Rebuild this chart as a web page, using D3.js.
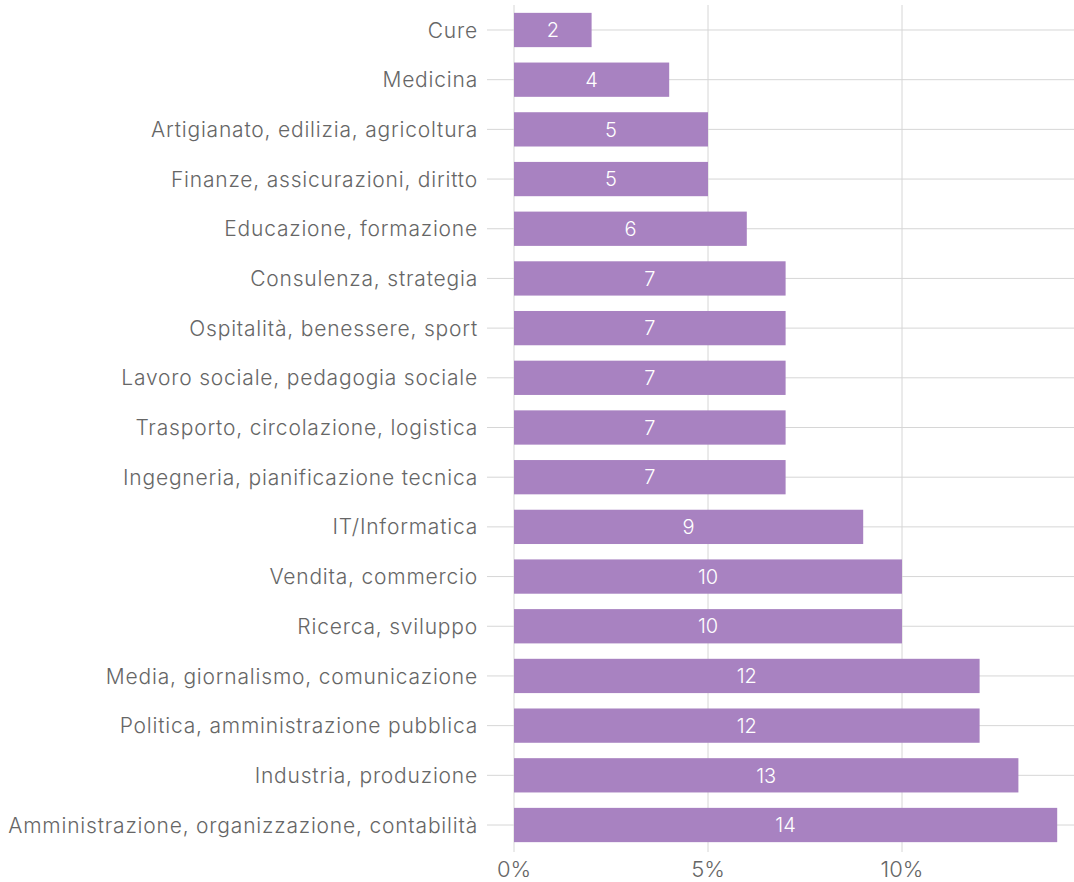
<!DOCTYPE html>
<html><head><meta charset="utf-8">
<script src="https://cdn.jsdelivr.net/npm/d3@7"></script>
<style>body{margin:0;background:#fff}svg{display:block}text{font-family:Inter,Roboto,sans-serif;font-weight:300}</style>
</head><body><svg id="c" width="1074" height="882"></svg>
<script>
const categories = ["Cure","Medicina","Artigianato, edilizia, agricoltura","Finanze, assicurazioni, diritto","Educazione, formazione","Consulenza, strategia","Ospitalità, benessere, sport","Lavoro sociale, pedagogia sociale","Trasporto, circolazione, logistica","Ingegneria, pianificazione tecnica","IT/Informatica","Vendita, commercio","Ricerca, sviluppo","Media, giornalismo, comunicazione","Politica, amministrazione pubblica","Industria, produzione","Amministrazione, organizzazione, contabilità"];
const values = [2,4,5,5,6,7,7,7,7,7,9,10,10,12,12,13,14];
const xTicks = [0,5,10];
const xTickLabels = ["0%","5%","10%"];

const svg = d3.select("#c");
const x = d3.scaleLinear().domain([0,14]).range([514,1057.2]);
const y = d3.scaleBand().domain(categories).range([5,850]).paddingInner(0.31).paddingOuter(0.158);
const grid = "#d6d6d6", textCol = "#666";

svg.append("g").selectAll("line").data(categories).join("line")
  .attr("x1",487).attr("x2",1074)
  .attr("y1",d=>y(d)+y.bandwidth()/2).attr("y2",d=>y(d)+y.bandwidth()/2)
  .attr("stroke",grid).attr("stroke-width",1);
svg.append("g").selectAll("line").data(xTicks).join("line")
  .attr("x1",d=>x(d)).attr("x2",d=>x(d)).attr("y1",5).attr("y2",852)
  .attr("stroke",grid).attr("stroke-width",1);
svg.append("g").selectAll("rect").data(values).join("rect")
  .attr("x",x(0)).attr("y",(d,i)=>y(categories[i]))
  .attr("width",d=>x(d)-x(0)).attr("height",y.bandwidth())
  .attr("fill","#a882c1");
svg.append("g").selectAll("text").data(values).join("text")
  .attr("x",d=>(x(0)+x(d))/2).attr("y",(d,i)=>y(categories[i])+y.bandwidth()/2)
  .attr("dy","0.36em").attr("text-anchor","middle").attr("fill","#fff")
  .attr("font-size",20).text(d=>d);
svg.append("g").selectAll("text").data(categories).join("text")
  .attr("x",478).attr("y",d=>y(d)+y.bandwidth()/2).attr("dy","0.36em")
  .attr("text-anchor","end").attr("fill",textCol).attr("font-size",21)
  .attr("letter-spacing","0.8px").text(d=>d);
svg.append("g").selectAll("text").data(xTicks).join("text")
  .attr("x",d=>x(d)).attr("y",869).attr("dy","0.36em").attr("text-anchor","middle")
  .attr("fill",textCol).attr("font-size",22).text((d,i)=>xTickLabels[i]);
</script></body></html>
